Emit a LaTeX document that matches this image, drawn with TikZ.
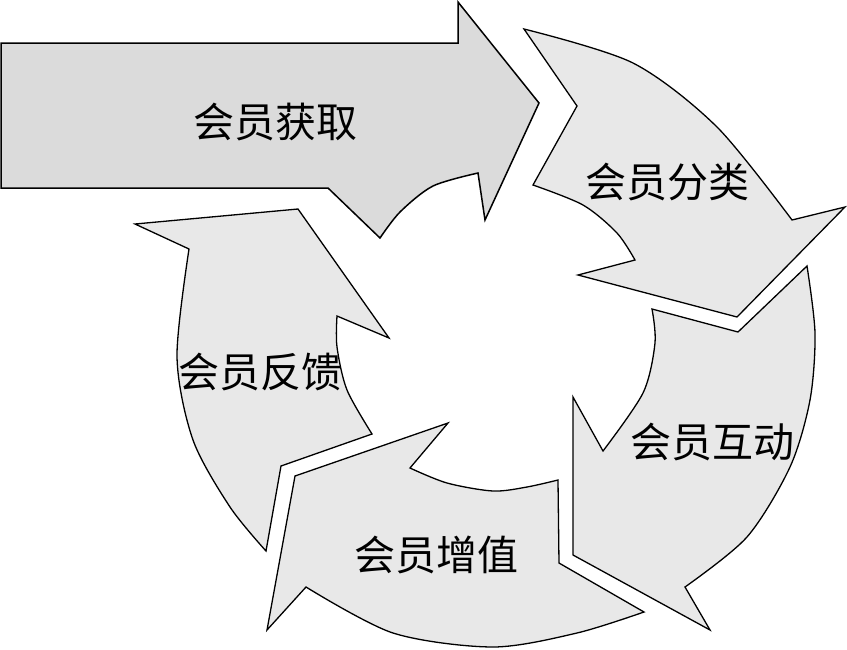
\documentclass[tikz,border=0pt]{standalone}
\usepackage{fontspec}
\newfontfamily\cjk{Noto Sans CJK SC}
\definecolor{entryfill}{HTML}{DBDBDB}
\definecolor{ringfill}{HTML}{E8E8E8}
\begin{document}
\begin{tikzpicture}[x=1pt,y=-1pt,line join=miter,
  ringarrow/.style={draw=black,line width=1.3pt,fill=ringfill},
  entryarrow/.style={draw=black,line width=1.5pt,fill=entryfill},
  lbl/.style={font=\cjk\fontsize{41}{45}\selectfont,inner sep=0pt}]
\useasboundingbox (0,0) rectangle (847,649);
% entry arrow
\draw[entryarrow] (1,43) -- (458,43) -- (458,2) -- (539,103) -- (485,220) -- (478,173)
  -- plot[smooth] coordinates {(478,173) (433,186) (400,212) (380,238)}
  -- (328,188) -- (1,188) -- cycle;
% classification
\draw[ringarrow] (524,29) -- (577,106) -- (533,185)
  -- plot[smooth] coordinates {(533,185) (583,205) (617,233) (635,260)}
  -- (578,275) -- (737,317) -- (845,207) -- (792,220)
  -- plot[smooth] coordinates {(792,220) (717,127) (633,63) (524,29)} -- cycle;
% interaction
\draw[ringarrow] (807,266) -- (738,332) -- (652,309)
  -- plot[smooth] coordinates {(652,309) (655,343) (643,393) (603,451)}
  -- (573,397) -- (573,555) -- (710,630) -- (685,587)
  -- plot[smooth] coordinates {(685,587) (747,537) (790,467) (810,400) (815,333) (807,266)} -- cycle;
% value-add
\draw[ringarrow] (448,423) -- (410,468)
  -- plot[smooth] coordinates {(410,468) (447,483) (493,491) (527,487) (558,480)}
  -- (559,563) -- (644,612)
  -- plot[smooth] coordinates {(644,612) (577,633) (493,647) (393,633) (306,587)}
  -- (267,630) -- (295,476) -- cycle;
% feedback
\draw[ringarrow] (298,209) -- (389,338) -- (337,316)
  -- plot[smooth] coordinates {(337,316) (337,347) (347,390) (372,434)}
  -- (281,466) -- (266,551)
  -- plot[smooth] coordinates {(266,551) (230,507) (193,440) (177,357) (189,249)}
  -- (135,224) -- cycle;
\node[lbl] (acq) at (275,122) {会员获取};
\node[lbl] (cls) at (667,182) {会员分类};
\node[lbl] (itr) at (712,442) {会员互动};
\node[lbl] (val) at (436,555) {会员增值};
\node[lbl] (fbk) at (260,372) {会员反馈};
\end{tikzpicture}
\end{document}
